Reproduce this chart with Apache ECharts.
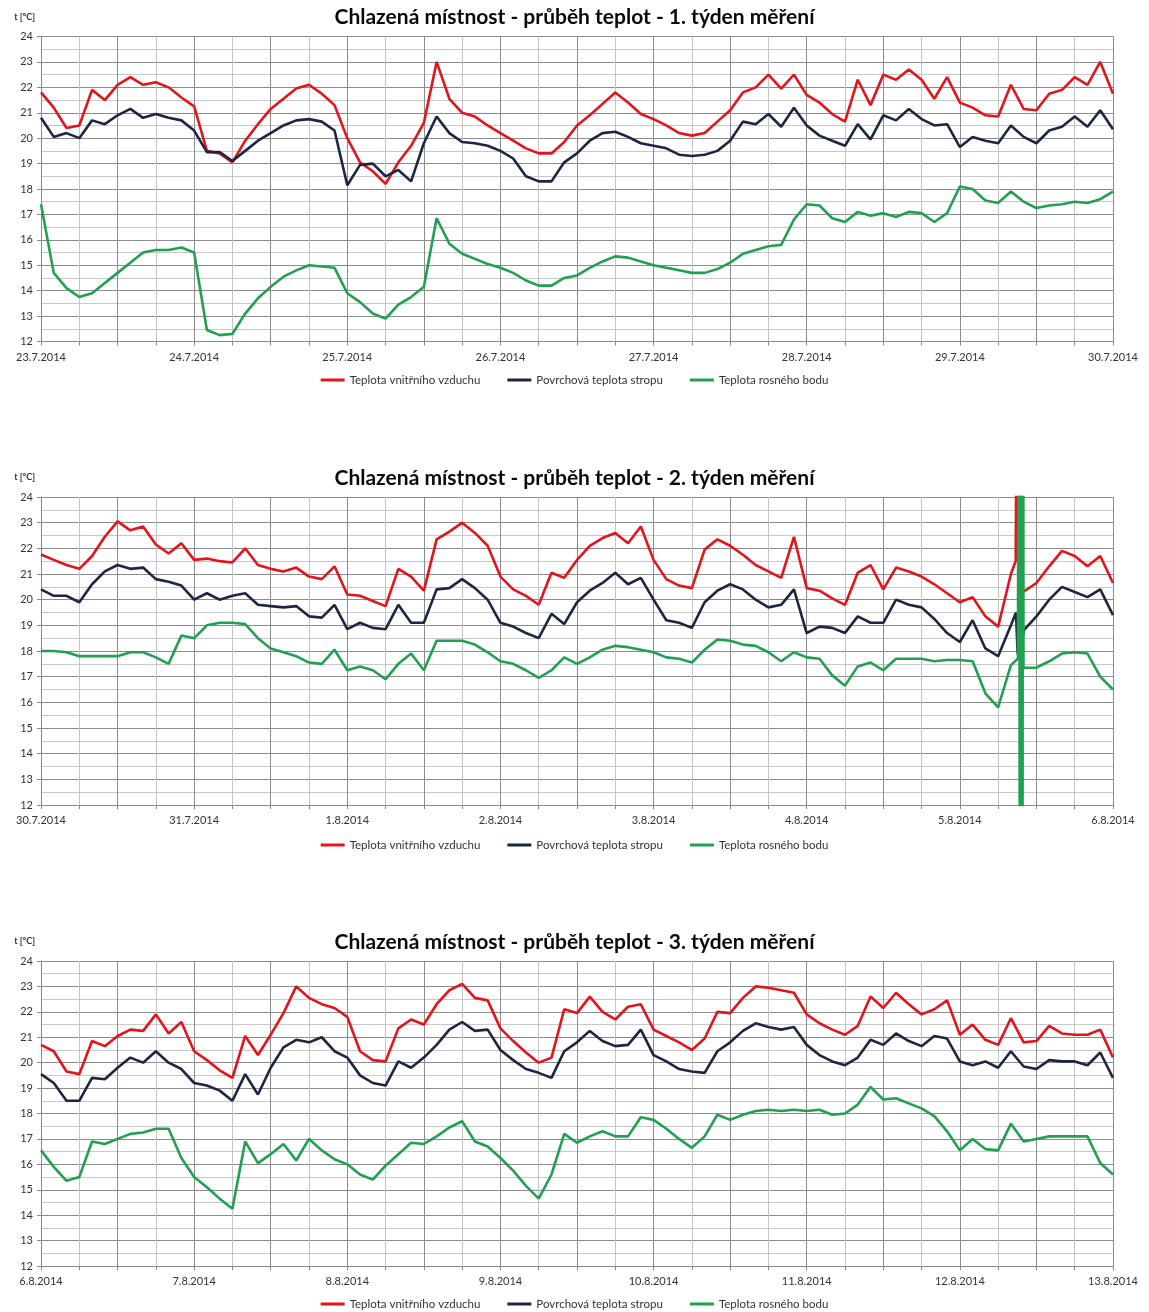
<!DOCTYPE html>
<html><head><meta charset="utf-8">
<script src="https://cdn.jsdelivr.net/npm/echarts@6/dist/echarts.min.js"></script>
<style>html,body{margin:0;padding:0;background:#fff;}#c{width:1149px;height:1312px;}</style>
</head><body><div id="c"></div>
<script>
// time step of the regular samples, hours
const STEP_H = 2;
const seriesNames = ['Teplota vnitřního vzduchu', 'Povrchová teplota stropu', 'Teplota rosného bodu'];
const titles = [
  'Chlazená místnost - průběh teplot - 1. týden měření',
  'Chlazená místnost - průběh teplot - 2. týden měření',
  'Chlazená místnost - průběh teplot - 3. týden měření'
];
const week1Labels = ['23.7.2014','24.7.2014','25.7.2014','26.7.2014','27.7.2014','28.7.2014','29.7.2014','30.7.2014'];
const week2Labels = ['30.7.2014','31.7.2014','1.8.2014','2.8.2014','3.8.2014','4.8.2014','5.8.2014','6.8.2014'];
const week3Labels = ['6.8.2014','7.8.2014','8.8.2014','9.8.2014','10.8.2014','11.8.2014','12.8.2014','13.8.2014'];

// week 1
const w1Air = [21.8,21.2,20.4,20.5,21.9,21.5,22.1,22.4,22.1,22.2,22.0,21.6,21.25,19.5,19.4,19.05,19.9,20.55,21.15,21.55,21.95,22.1,21.75,21.3,20.0,19.05,18.7,18.2,19.05,19.7,20.6,23.0,21.55,21.0,20.85,20.5,20.2,19.9,19.6,19.4,19.4,19.85,20.5,20.9,21.35,21.8,21.4,20.95,20.75,20.5,20.2,20.1,20.2,20.65,21.1,21.8,22.0,22.5,21.95,22.5,21.7,21.4,20.95,20.65,22.3,21.3,22.5,22.3,22.7,22.3,21.55,22.4,21.4,21.2,20.9,20.85,22.1,21.15,21.1,21.75,21.9,22.4,22.1,23.0,21.75];
const w1Ceil = [20.8,20.05,20.2,20.0,20.7,20.55,20.9,21.15,20.8,20.95,20.8,20.7,20.3,19.45,19.45,19.1,19.5,19.9,20.2,20.5,20.7,20.75,20.65,20.3,18.15,18.95,19.0,18.5,18.75,18.3,19.8,20.85,20.2,19.85,19.8,19.7,19.5,19.2,18.5,18.3,18.3,19.05,19.4,19.9,20.2,20.25,20.05,19.8,19.7,19.6,19.35,19.3,19.35,19.5,19.9,20.65,20.55,20.95,20.45,21.2,20.5,20.1,19.9,19.7,20.55,19.95,20.9,20.7,21.15,20.75,20.5,20.55,19.65,20.05,19.9,19.8,20.5,20.05,19.8,20.3,20.45,20.85,20.45,21.1,20.35];
const w1Dew = [17.4,14.7,14.1,13.75,13.9,14.3,14.7,15.1,15.5,15.6,15.6,15.7,15.5,12.45,12.25,12.3,13.1,13.7,14.15,14.55,14.8,15.0,14.95,14.9,13.9,13.55,13.1,12.9,13.45,13.75,14.15,16.85,15.85,15.45,15.25,15.05,14.9,14.7,14.4,14.2,14.2,14.5,14.6,14.9,15.15,15.35,15.3,15.15,15.0,14.9,14.8,14.7,14.7,14.85,15.1,15.45,15.6,15.75,15.8,16.8,17.4,17.35,16.85,16.7,17.1,16.95,17.05,16.9,17.1,17.05,16.7,17.05,18.1,18.0,17.55,17.45,17.9,17.5,17.25,17.35,17.4,17.5,17.45,17.6,17.9];

// week 2
const w2Air = [21.76,21.55,21.35,21.2,21.7,22.45,23.05,22.7,22.85,22.15,21.8,22.2,21.55,21.6,21.5,21.45,22.0,21.35,21.2,21.1,21.25,20.9,20.8,21.3,20.2,20.15,19.95,19.75,21.2,20.9,20.35,22.35,22.65,23.0,22.6,22.1,20.9,20.4,20.15,19.8,21.05,20.85,21.55,22.1,22.4,22.6,22.2,22.85,21.55,20.8,20.55,20.45,21.95,22.35,22.1,21.75,21.35,21.1,20.85,22.45,20.45,20.35,20.05,19.8,21.05,21.35,20.4,21.25,21.1,20.9,20.6,20.25,19.9,20.1,19.35,18.95,21.0,20.3,20.65,21.3,21.9,21.7,21.3,21.7,20.65];
const w2Ceil = [20.4,20.15,20.15,19.9,20.6,21.1,21.35,21.2,21.25,20.8,20.7,20.55,20.0,20.25,20.0,20.15,20.25,19.8,19.75,19.7,19.75,19.35,19.3,19.8,18.85,19.1,18.9,18.85,19.8,19.1,19.1,20.4,20.45,20.8,20.45,20.0,19.1,18.95,18.7,18.5,19.45,19.05,19.9,20.35,20.65,21.05,20.6,20.85,20.0,19.2,19.1,18.9,19.9,20.35,20.6,20.4,20.0,19.7,19.8,20.4,18.7,18.95,18.9,18.7,19.35,19.1,19.1,20.0,19.8,19.7,19.25,18.7,18.35,19.2,18.1,17.8,19.0,18.8,19.35,20.0,20.5,20.3,20.1,20.4,19.4];
const w2Dew = [18.0,18.0,17.95,17.8,17.8,17.8,17.8,17.95,17.95,17.75,17.5,18.6,18.5,19.0,19.1,19.1,19.05,18.5,18.1,17.95,17.8,17.55,17.5,18.05,17.25,17.4,17.25,16.9,17.5,17.9,17.25,18.4,18.4,18.4,18.25,17.95,17.6,17.5,17.25,16.95,17.25,17.75,17.5,17.75,18.05,18.2,18.15,18.05,17.95,17.75,17.7,17.55,18.05,18.45,18.4,18.25,18.2,17.95,17.6,17.95,17.75,17.7,17.05,16.65,17.4,17.55,17.25,17.7,17.7,17.7,17.6,17.65,17.65,17.6,16.35,15.8,17.45,17.33,17.35,17.6,17.9,17.95,17.9,17.0,16.5];
// sensor glitch on 5.8.2014 evening: [hour, value] readings between the regular samples
const w2AirGlitch = [[152.75,21.5],[152.95,30],[153.9,20.3]];
const w2CeilGlitch = [[152.8,19.5],[153.05,17.9],[153.9,18.6]];
const w2DewGlitch = [[153.1,17.7],[153.3,40],[153.45,-20],[153.6,40],[153.75,-20],[153.9,40],[153.97,17.35]];

// week 3
const w3Air = [20.7,20.45,19.65,19.55,20.85,20.65,21.05,21.3,21.25,21.9,21.15,21.6,20.45,20.1,19.7,19.4,21.05,20.3,21.1,21.95,23.0,22.55,22.3,22.15,21.8,20.45,20.1,20.05,21.35,21.7,21.5,22.3,22.85,23.1,22.55,22.45,21.35,20.85,20.4,20.0,20.2,22.1,21.95,22.6,22.0,21.7,22.2,22.3,21.3,21.05,20.8,20.5,20.95,22.0,21.95,22.55,23.0,22.95,22.85,22.75,21.9,21.55,21.3,21.1,21.45,22.6,22.15,22.75,22.3,21.9,22.1,22.45,21.1,21.5,20.9,20.7,21.75,20.8,20.85,21.45,21.15,21.1,21.1,21.3,20.2];
const w3Ceil = [19.55,19.2,18.5,18.5,19.4,19.35,19.8,20.2,20.0,20.45,20.0,19.75,19.2,19.1,18.9,18.5,19.55,18.75,19.8,20.6,20.9,20.8,21.0,20.45,20.2,19.5,19.2,19.1,20.05,19.8,20.2,20.7,21.3,21.6,21.25,21.3,20.5,20.1,19.75,19.6,19.4,20.45,20.8,21.25,20.85,20.65,20.7,21.3,20.3,20.05,19.75,19.65,19.6,20.45,20.8,21.25,21.55,21.4,21.3,21.4,20.7,20.3,20.05,19.9,20.2,20.9,20.7,21.15,20.85,20.65,21.05,20.95,20.05,19.9,20.05,19.8,20.45,19.85,19.75,20.1,20.05,20.05,19.9,20.4,19.4];
const w3Dew = [16.55,15.9,15.35,15.5,16.9,16.8,17.0,17.2,17.25,17.4,17.4,16.25,15.5,15.1,14.65,14.25,16.9,16.05,16.4,16.8,16.15,17.0,16.55,16.2,16.0,15.6,15.4,15.95,16.4,16.85,16.8,17.1,17.45,17.7,16.9,16.7,16.25,15.75,15.15,14.65,15.6,17.2,16.85,17.1,17.3,17.1,17.1,17.85,17.75,17.4,17.0,16.65,17.1,17.95,17.75,17.95,18.1,18.15,18.1,18.15,18.1,18.15,17.95,18.0,18.35,19.05,18.55,18.6,18.4,18.2,17.9,17.3,16.55,17.0,16.6,16.55,17.6,16.9,17.0,17.1,17.1,17.1,17.1,16.05,15.6];

const colors = ['#e3141b', '#1b2742', '#22a052'];
const FONT = 'Lato, "Liberation Sans", sans-serif';

function toPoints(vals, extra) {
  const pts = vals.map((v, i) => [i * STEP_H, v]);
  if (extra) pts.push(...extra);
  pts.sort((a, b) => a[0] - b[0]);
  return pts;
}

const weeks = [
  { labels: week1Labels, data: [toPoints(w1Air), toPoints(w1Ceil), toPoints(w1Dew)] },
  { labels: week2Labels, data: [toPoints(w2Air, w2AirGlitch), toPoints(w2Ceil, w2CeilGlitch), toPoints(w2Dew, w2DewGlitch)] },
  { labels: week3Labels, data: [toPoints(w3Air), toPoints(w3Ceil), toPoints(w3Dew)] }
];

const gridTops = [36.5, 497, 961];
const gridHeights = [305, 308, 305];
const titleTops = [7, 468, 932];
const legendTops = [374, 839, 1298];

const option = {
  animation: false,
  backgroundColor: '#fff',
  title: titles.map((t, i) => ({
    text: t, left: 'center', top: titleTops[i], padding: 0,
    textStyle: { fontFamily: FONT, fontSize: 21, fontWeight: 'bold', color: '#0a0a0a' }
  })),
  legend: legendTops.map(top => ({
    top: top, left: 'center', padding: 0, data: seriesNames, icon: 'rect',
    itemWidth: 24, itemHeight: 3, itemGap: 27, selectedMode: false,
    textStyle: { fontFamily: FONT, fontSize: 11.5, color: '#333' }
  })),
  grid: gridTops.map((top, i) => ({ left: 41, top: top, width: 1072, height: gridHeights[i] })),
  xAxis: weeks.map((w, i) => ({
    type: 'value', gridIndex: i, min: 0, max: 168, interval: 6,
    axisLine: { show: true, onZero: false, lineStyle: { color: '#8a8a8a', width: 1 } },
    axisTick: { show: true, length: 4, lineStyle: { color: '#8a8a8a' } },
    axisLabel: {
      margin: 10, fontSize: 11, color: '#333', fontFamily: FONT,
      showMinLabel: true, showMaxLabel: true,
      formatter: v => (v % 24 === 0 ? w.labels[v / 24] : '')
    },
    splitLine: { show: true, lineStyle: { color: ['#8c8c8c', '#c4c4c4'], width: 1 } }
  })),
  yAxis: weeks.map((w, i) => ({
    type: 'value', gridIndex: i, min: 12, max: 24, interval: 1,
    name: 't [°C]', nameLocation: 'end', nameGap: 15,
    nameTextStyle: { align: 'right', fontSize: 9, fontWeight: 'bold', color: '#333', fontFamily: FONT, padding: [0, 6, 0, 0] },
    axisLine: { show: true, lineStyle: { color: '#8a8a8a' } },
    axisTick: { show: true, length: 4, lineStyle: { color: '#8a8a8a' } },
    axisLabel: { fontSize: 11, color: '#333', margin: 8, fontFamily: FONT },
    splitLine: { show: true, lineStyle: { color: '#8c8c8c', width: 1 } },
    minorTick: { show: false, splitNumber: 2 },
    minorSplitLine: { show: true, lineStyle: { color: '#c8c8c8', width: 1 } }
  })),
  series: []
};

weeks.forEach((w, gi) => {
  w.data.forEach((pts, si) => {
    option.series.push({
      name: seriesNames[si], type: 'line', xAxisIndex: gi, yAxisIndex: gi,
      data: pts, showSymbol: false, symbol: 'none', clip: true,
      lineStyle: { width: 2.6, color: colors[si] }, itemStyle: { color: colors[si] },
      z: 2 + si
    });
  });
});

const chart = echarts.init(document.getElementById('c'), null, { renderer: 'canvas' });
chart.setOption(option);
</script>
</body></html>
